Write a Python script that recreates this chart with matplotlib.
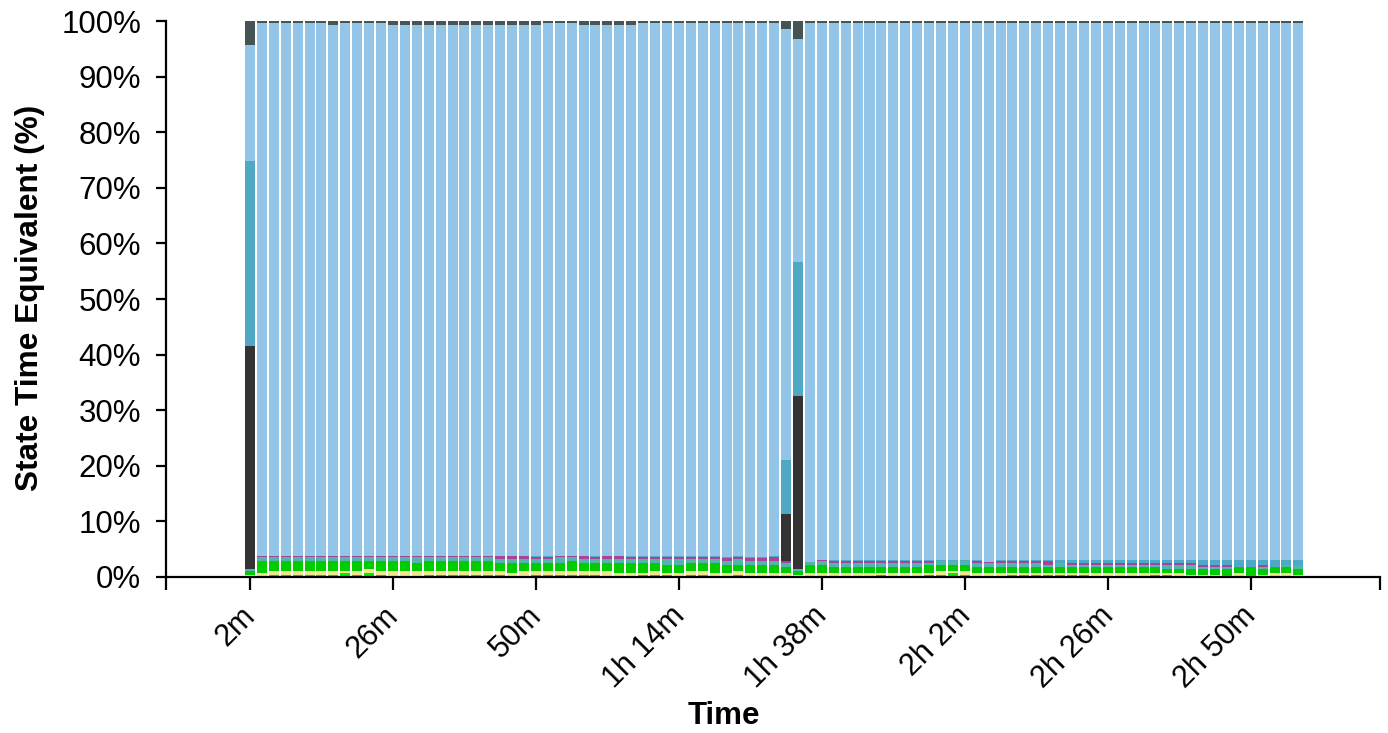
import matplotlib
matplotlib.use("Agg")
import matplotlib.pyplot as plt
import matplotlib.transforms as mtransforms
import numpy as np

# ---- data (minutes, % of state time per 2-minute bucket) ----
minutes = list(range(2, 179, 2))

lime = [0, 0, .36, .36, .36, .36, .36, .36, .72, .36,
        .72, .36, 0, 0, 0, .36, .36, .36, .36, .36,
        .36, .36, 0, 0, .36, .36, .36, .36, .36, .36,
        0, 0, 0, .36, .36, .36, 0, .36, .36, 0,
        0, .36, 0, 0, 0, 0, 0, 0, 0, 0,
        0, 0, 0, .36, 0, 0, 0, .36, .36, .72,
        .36, 0, 0, 0, .36, .36, .36, .36, .36, .36,
        .36, 0, 0, 0, 0, 0, .36, .36, 0, 0,
        0, 0, .36, 0, .36, 0, 0, 0, 0]

khaki = [.42, .72, .66, .66, .66, .66, .66, .66, .3, .66,
         .66, .66, 1.02, 1.02, 1.02, .66, .66, .66, .66, .66,
         .66, .72, .72, 1.08, .66, .66, .66, .66, .66, .66,
         1.02, .72, .72, .36, .66, .36, .72, .66, .66, .72,
         .72, .66, .72, .72, .74, .74, .3, .72, .72, .72,
         .72, .72, .72, .36, .72, .72, .72, .36, .66, .3,
         .72, .72, .72, .72, .36, .36, .36, .36, .36, .36,
         .36, .72, .72, .72, .72, .72, .36, .36, .72, .36,
         .36, .36, 0, .72, 0, .36, .72, .72, .36]

green = [.66, 2.1, 1.8, 1.8, 1.8, 1.8, 1.8, 1.8, 1.8, 1.8,
         1.44, 1.8, 1.8, 1.8, 1.5, 1.8, 1.8, 1.8, 1.8, 1.8,
         1.8, 1.44, 1.8, 1.44, 1.5, 1.5, 1.5, 1.8, 1.5, 1.5,
         1.5, 1.8, 1.8, 1.8, 1.5, 1.38, 1.38, 1.5, 1.5, 1.8,
         1.38, 1.08, 1.38, 1.38, 1.38, 1.03, .8, 1.44, 1.44, 1.08,
         1.08, 1.08, 1.08, 1.08, 1.08, 1.08, 1.08, 1.44, 1.08, 1.08,
         1.08, 1.08, 1.08, 1.08, 1.08, 1.08, 1.08, 1.08, 1.08, 1.08,
         1.08, 1.08, 1.08, 1.08, 1.08, 1.08, 1.08, .66, .66, 1.02,
         1.02, 1.02, 1.02, 1.08, 1.44, 1.02, 1.08, 1.08, 1.02]

teal = [.36, .78, .78, .78, .78, .78, .78, .78, .78, .78,
        .78, .78, .78, .78, 1.08, .78, .78, .78, .78, .78,
        .78, .72, .72, .72, .66, .66, 1.08, .78, .66, .66,
        .66, .66, .66, .66, .66, 1.08, 1.08, .66, .66, .66,
        .72, 1.08, .72, .72, .83, .83, .3, .54, .72, .72,
        .72, .72, .72, .72, .72, .72, .72, .36, .72, .72,
        .72, .72, .78, .72, .72, .72, .72, .36, .72, .3,
        .3, .3, .3, .3, .3, .3, .3, .72, .72, .72,
        .42, .42, .42, 0, 0, .42, 0, .3, .72]

magenta = [0, .18, .18, .18, .18, .18, .18, .18, .18, .18,
           .18, .18, .18, .18, .18, .18, .18, .18, .18, .18,
           .18, .54, .54, .54, .42, .42, .18, .1, .6, .42,
           .6, .6, .42, .42, .42, .42, .42, .42, .42, .42,
           .66, .42, .66, .66, .68, .35, 0, 0, .18, .36,
           .36, .36, .36, .36, .36, .36, .36, .36, 0, 0,
           0, .36, .2, .36, .36, .36, .36, .72, 0, .42,
           .42, .42, .42, .42, .42, .42, .42, .42, .42, .42,
           .3, .3, .3, 0, 0, .3, 0, 0, 0]

dark = [40.1] + [0] * 44 + [8.35, 31.2] + [0] * 42

steel = [33.3, 0, 0, 0, 0, 0, 0, 0, 0, 0,
         0, 0, 0, 0, 0, 0, 0, 0, 0, 0,
         0, 0, 0, 0, .18, .18, 0, 0, 0, .18,
         0, 0, .18, .18, .18, .18, .18, .18, .18, .18,
         .12, .18, .12, .12, .18, 9.7, 24.0, 0, 0, .18,
         .18, .18, .18, .18, .18, .18, .18, .18, .18, .18,
         .18, .18, 0, .18, .18, .18, .18, .18, .48, .48,
         .48, .48, .48, .48, .48, .48, .48, .48, .48, .48,
         .9, .9, .9, 1.2, 1.2, .9, 1.2, .9, .9]

light_blue = [20.9, 95.9, 95.9, 95.9, 95.9, 95.9, 95.9, 95.5, 95.9, 95.9,
              95.9, 95.9, 95.5, 95.5, 95.5, 95.5, 95.5, 95.5, 95.5, 95.5,
              95.5, 95.5, 95.5, 95.5, 95.5, 95.9, 95.9, 95.9, 95.5, 95.5,
              95.5, 95.5, 95.5, 95.9, 95.9, 95.9, 95.9, 95.9, 95.9, 95.9,
              96.0, 95.9, 96.0, 96.0, 95.8, 77.5, 40.2, 96.9, 96.6, 96.6,
              96.6, 96.6, 96.6, 96.6, 96.6, 96.6, 96.6, 96.6, 96.6, 96.6,
              96.6, 96.6, 96.9, 96.6, 96.6, 96.6, 96.6, 96.6, 96.6, 96.6,
              96.6, 96.6, 96.6, 96.6, 96.6, 96.6, 96.6, 96.6, 96.6, 96.6,
              96.6, 96.6, 96.6, 96.6, 96.6, 96.6, 96.6, 96.6, 96.6]

slate = [4.3, .36, .36, .36, .36, .36, .36, .72, .36, .36,
         .36, .36, .72, .72, .72, .72, .72, .72, .72, .72,
         .72, .72, .72, .72, .72, .36, .36, .36, .72, .72,
         .72, .72, .72, .36, .36, .36, .36, .36, .36, .36,
         .36, .36, .36, .36, .36, 1.5, 3.2, .36, .36, .36,
         .36, .36, .36, .36, .36, .36, .36, .36, .36, .36,
         .36, .36, .36, .36, .36, .36, .36, .36, .36, .36,
         .36, .36, .36, .36, .36, .36, .36, .36, .36, .36,
         .36, .36, .36, .36, .36, .36, .36, .36, .36]

series = [lime, khaki, green, teal, magenta, dark, steel, light_blue, slate]
colors = ["#00ee00", "#f0e68c", "#00cc00", "#52b5ad", "#a8429a",
          "#333333", "#4ea8c6", "#92c5e7", "#455555"]

tick_minutes = [2, 26, 50, 74, 98, 122, 146, 170]
tick_labels = ["2m", "26m", "50m", "1h 14m", "1h 38m", "2h 2m", "2h 26m", "2h 50m"]
y_ticks = list(range(0, 101, 10))

# ---- figure ----
plt.rcParams['font.family'] = ['Liberation Sans', 'DejaVu Sans']
W, H = 1388, 733
fig = plt.figure(figsize=(W / 100, H / 100), dpi=100)
ax = fig.add_axes([166 / W, 1 - 577 / H, (1380 - 166) / W, (577 - 21) / H])

data = np.array(series, dtype=float)
data = data / data.sum(axis=0) * 100.0
x = np.array(minutes, dtype=float)
bottom = np.zeros(len(minutes))
for vals, col in zip(data, colors):
    ax.bar(x, vals, bottom=bottom, width=1.68, color=col, linewidth=0, align='center')
    bottom += vals

ax.set_xlim(-12.1, 191.7)
ax.set_ylim(0, 100)

for s in ['top', 'right']:
    ax.spines[s].set_visible(False)
for s in ['left', 'bottom']:
    ax.spines[s].set_linewidth(1.6)
    ax.spines[s].set_color('black')

ax.set_yticks(y_ticks)
ax.set_yticklabels([f"{v}%" for v in y_ticks], fontsize=22.5)
ax.tick_params(axis='y', length=7, width=1.6, pad=11)

ax.set_xticks(tick_minutes)
ax.set_xticks([-12.1, 191.7], minor=True)
ax.set_xticklabels(tick_labels, fontsize=22, rotation=45, ha='right',
                   va='center', rotation_mode='anchor')
ax.tick_params(axis='x', which='both', length=9, width=1.6, pad=16)
offset = mtransforms.ScaledTranslation(1 / 100, 0, fig.dpi_scale_trans)
for lab in ax.get_xticklabels():
    lab.set_transform(lab.get_transform() + offset)

fig.text(30 / W, 1 - 298 / H, "State Time Equivalent (%)", rotation=90,
         fontsize=22.8, fontweight='bold', ha='center', va='center')
fig.text(724 / W, 1 - 716 / H, "Time", fontsize=22.5, fontweight='bold',
         ha='center', va='center')

fig.savefig("out.png", dpi=100)
